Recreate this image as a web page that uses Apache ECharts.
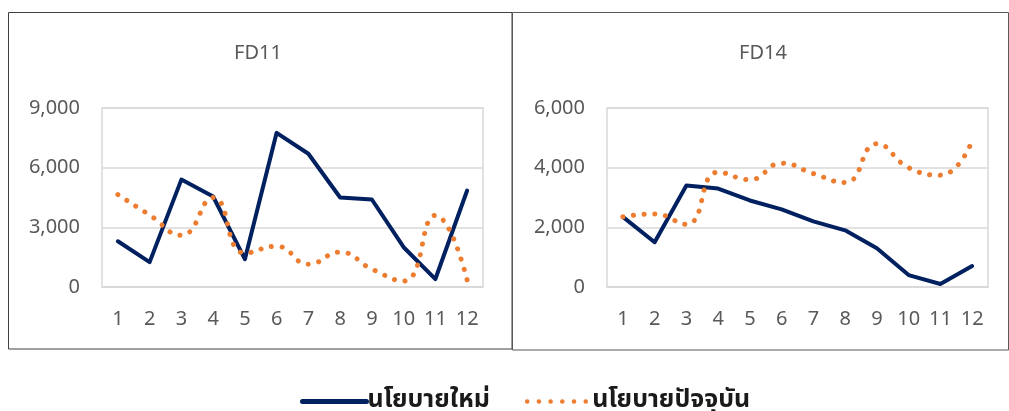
<!DOCTYPE html>
<html>
<head>
<meta charset="utf-8">
<script src="https://cdn.jsdelivr.net/npm/echarts@6/dist/echarts.min.js"></script>
<style>
  html, body { margin: 0; padding: 0; background: #fff; }
  #chart { width: 1009px; height: 411px; }
</style>
</head>
<body>
<div id="chart"></div>
<script>
// Months on the x axis
const months = ['1', '2', '3', '4', '5', '6', '7', '8', '9', '10', '11', '12'];

// Series names
const nameNew = 'นโยบายใหม่';
const nameCurrent = 'นโยบายปัจจุบัน';

// FD11 values
const fd11New = [2300, 1250, 5400, 4550, 1400, 7750, 6700, 4500, 4400, 2000, 400, 4850];
const fd11Current = [4650, 3620, 2600, 4500, 1700, 2050, 1150, 1750, 900, 300, 3600, 350];

// FD14 values
const fd14New = [2350, 1500, 3400, 3300, 2900, 2600, 2200, 1900, 1300, 400, 100, 700];
const fd14Current = [2350, 2450, 2100, 3850, 3600, 4150, 3800, 3500, 4800, 4000, 3750, 4900];

// Panel titles and y-axis ranges
const panelTitles = ['FD11', 'FD14'];
const yMax = [9000, 6000];
const yStep = [3000, 2000];

const NAVY = '#002060';
const ORANGE = '#ED7D31';
const GRID_GREY = '#d9d9d9';
const TEXT_GREY = '#595959';
const FONT = '"Noto Sans", "DejaVu Sans", sans-serif';
const THAI_FONT = '"Noto Sans Thai", "Noto Sans Thai UI", "Noto Sans", sans-serif';

const grids = [
  { left: 102, top: 108, width: 381, height: 179 },
  { left: 607, top: 108, width: 381, height: 179 }
];

function xAxisFor(i) {
  return {
    type: 'category', gridIndex: i, data: months, boundaryGap: true,
    axisLine: { lineStyle: { color: GRID_GREY, width: 1.5 } },
    axisTick: { show: false },
    axisLabel: { color: TEXT_GREY, fontSize: 20, fontFamily: FONT, margin: 22 }
  };
}

function yAxisFor(i) {
  return {
    type: 'value', gridIndex: i, min: 0, max: yMax[i], interval: yStep[i],
    axisLine: { show: false }, axisTick: { show: false },
    splitLine: { lineStyle: { color: GRID_GREY, width: 1.5 } },
    axisLabel: {
      color: TEXT_GREY, fontSize: 20, fontFamily: FONT, margin: 22,
      formatter: v => v.toLocaleString('en-US')
    }
  };
}

const solidStyle = { color: NAVY, width: 4, cap: 'round', join: 'round' };
const dotStyle = { color: ORANGE, width: 5, type: [0.1, 10.6], cap: 'round' };

function newSeries(i, data) {
  return {
    name: nameNew, type: 'line', xAxisIndex: i, yAxisIndex: i, data: data,
    symbol: 'none', lineStyle: solidStyle, itemStyle: { color: NAVY },
    silent: true, animation: false, z: 2
  };
}

function currentSeries(i, data) {
  return {
    name: nameCurrent, type: 'line', xAxisIndex: i, yAxisIndex: i, data: data,
    symbol: 'none', smooth: 0.5, lineStyle: dotStyle, itemStyle: { color: ORANGE },
    silent: true, animation: false, z: 3
  };
}

const chart = echarts.init(document.getElementById('chart'), null, { renderer: 'canvas' });

chart.setOption({
  backgroundColor: '#ffffff',
  animation: false,
  title: panelTitles.map((t, i) => ({
    text: t,
    left: i === 0 ? 253 : 758,
    top: 38,
    textAlign: 'center',
    textStyle: { color: TEXT_GREY, fontSize: 20, fontWeight: 'normal', fontFamily: FONT }
  })),
  grid: grids.map(g => Object.assign({ show: true, borderColor: GRID_GREY, borderWidth: 1.5, backgroundColor: 'transparent' }, g)),
  xAxis: [xAxisFor(0), xAxisFor(1)],
  yAxis: [yAxisFor(0), yAxisFor(1)],
  legend: {
    left: 295, top: 384, orient: 'horizontal',
    itemWidth: 64, itemHeight: 20, itemGap: 35,
    itemStyle: { color: 'rgba(0,0,0,0)', borderWidth: 0, opacity: 0 },
    textStyle: { color: '#1a1a1a', fontSize: 25, fontWeight: 'bold', fontFamily: THAI_FONT, padding: [0, 0, 0, -4] },
    data: [
      { name: nameNew, lineStyle: { color: NAVY, width: 5, cap: 'round' } },
      { name: nameCurrent, lineStyle: { color: ORANGE, width: 4.5, type: [0.1, 11.6], cap: 'round' } }
    ]
  },
  graphic: [
    { type: 'rect', shape: { x: 8.5, y: 12.5, width: 503.5, height: 336.5 }, style: { fill: null, stroke: '#404040', lineWidth: 1 }, silent: true },
    { type: 'rect', shape: { x: 512.5, y: 12.5, width: 496, height: 337.5 }, style: { fill: null, stroke: '#595959', lineWidth: 1 }, silent: true }
  ],
  series: [
    newSeries(0, fd11New),
    currentSeries(0, fd11Current),
    newSeries(1, fd14New),
    currentSeries(1, fd14Current)
  ]
});
</script>
</body>
</html>
